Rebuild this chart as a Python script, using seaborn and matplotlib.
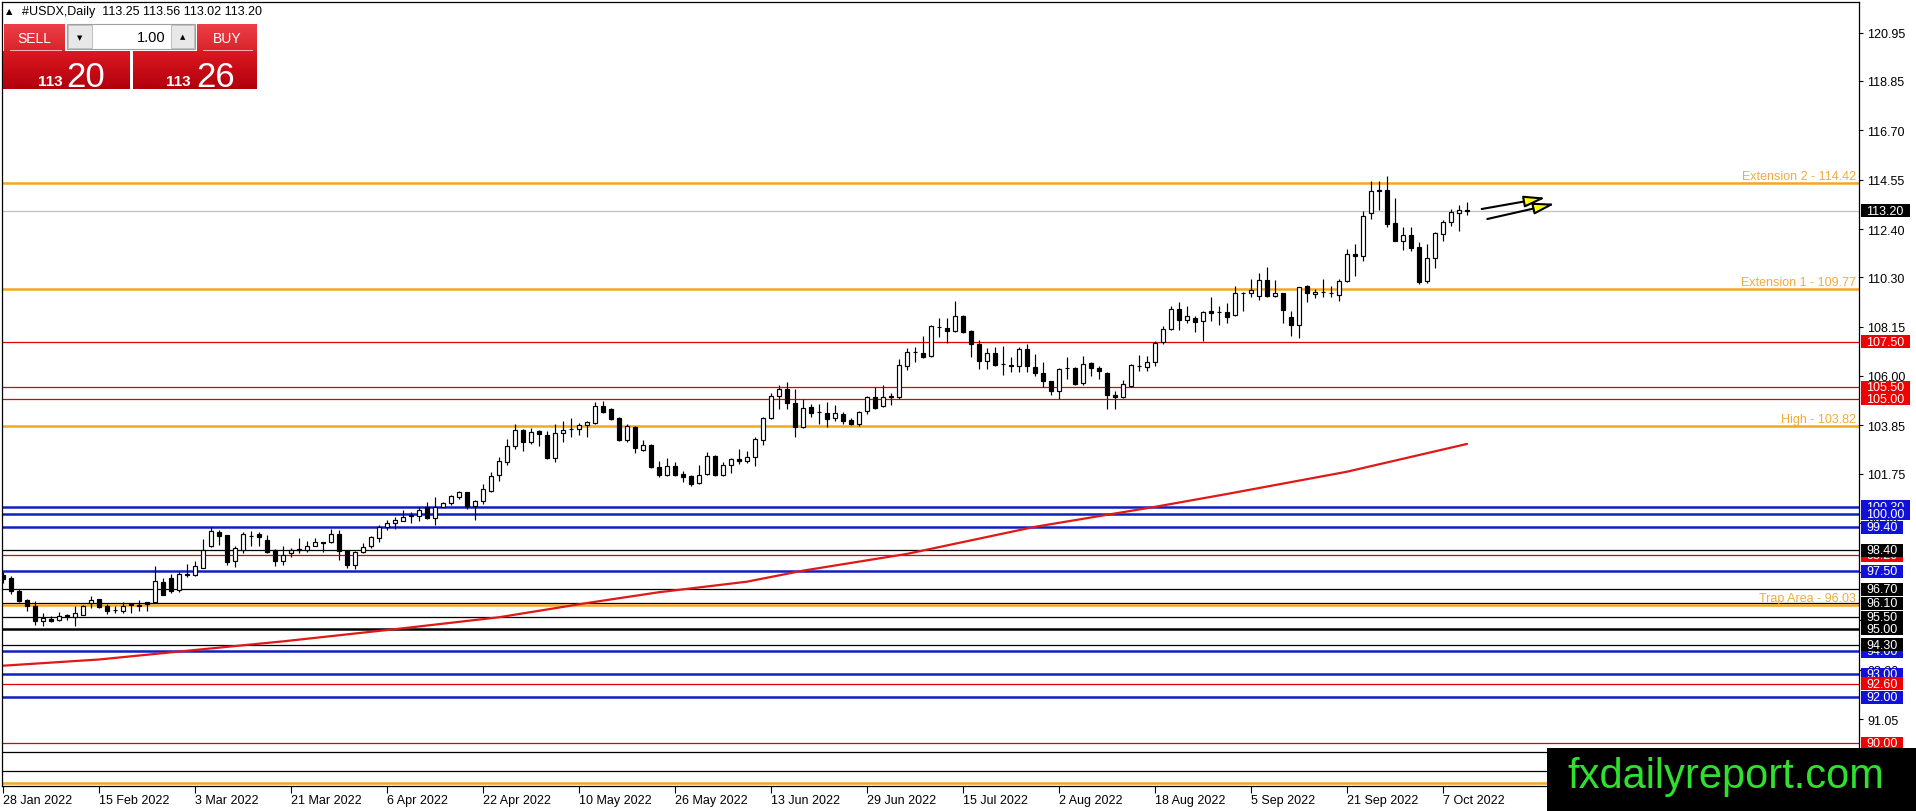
import numpy as np
import pandas as pd
import matplotlib
matplotlib.use("Agg")
import matplotlib.pyplot as plt
import matplotlib.transforms as mtransforms
from matplotlib.patches import Rectangle
from matplotlib.colors import LinearSegmentedColormap
import seaborn as sns

# ---------------- data ----------------
opens = [97.35, 97.19, 96.65, 96.24, 95.99, 95.31, 95.41, 95.38, 95.59, 95.51,
         95.60, 96.10, 96.28, 95.99, 95.81, 95.78, 96.03, 96.00, 96.14, 96.17,
         97.01, 97.18, 96.69, 97.33, 97.33, 97.65, 98.60, 99.22, 99.07, 97.95,
         98.43, 99.05, 99.12, 98.86, 98.43, 97.95, 98.29, 98.43, 98.43, 98.58,
         98.76, 98.75, 99.12, 98.39, 97.78, 98.32, 98.58, 98.93, 99.44, 99.58,
         99.70, 99.95, 99.91, 100.31, 99.80, 100.31, 100.47, 100.74, 100.93, 100.32,
         100.57, 101.00, 101.69, 102.27, 102.93, 103.65, 103.14, 103.62, 103.43, 102.43,
         103.50, 103.69, 103.69, 103.85, 103.94, 104.68, 104.56, 104.15, 103.23, 103.79,
         102.79, 102.99, 102.02, 101.70, 102.06, 101.73, 101.63, 101.32, 101.73, 102.50,
         101.70, 102.12, 102.38, 102.28, 102.48, 103.22, 104.15, 105.14, 105.43, 104.82,
         103.76, 104.63, 104.41, 104.39, 104.15, 104.34, 104.08, 103.91, 104.46, 105.07,
         104.68, 105.14, 105.10, 106.45, 107.03, 106.99, 106.88, 108.14, 108.07, 107.94,
         108.60, 107.94, 107.39, 106.64, 106.99, 106.52, 106.49, 106.42, 107.17, 106.38,
         106.13, 105.77, 105.33, 106.33, 106.35, 105.69, 106.56, 106.35, 106.13, 105.17,
         105.07, 105.58, 106.45, 106.40, 106.59, 107.46, 108.05, 108.92, 108.45, 108.52,
         108.38, 108.84, 108.77, 108.80, 108.67, 109.60, 109.60, 109.50, 110.18, 109.50,
         109.61, 108.55, 108.23, 109.90, 109.57, 109.64, 109.61, 109.53, 110.12, 111.31,
         111.21, 113.10, 114.10, 114.10, 112.65, 111.89, 112.14, 111.60, 110.15, 111.12,
         112.17, 112.69, 113.08, 113.25]
highs = [97.45, 97.27, 96.72, 96.28, 96.21, 95.68, 95.56, 95.70, 95.62, 95.99,
         96.02, 96.40, 96.29, 96.07, 95.99, 96.14, 96.07, 96.24, 96.17, 97.71,
         97.18, 97.37, 97.45, 97.81, 97.95, 98.90, 99.40, 99.29, 99.07, 98.61,
         99.19, 99.25, 99.22, 99.07, 98.46, 98.61, 98.49, 98.93, 98.82, 98.93,
         98.78, 99.33, 99.29, 98.39, 98.39, 98.71, 99.04, 99.51, 99.73, 99.84,
         100.16, 100.06, 100.30, 100.50, 100.71, 100.52, 100.81, 100.99, 100.96, 100.60,
         101.29, 101.80, 102.46, 103.25, 103.91, 103.69, 103.72, 103.65, 103.62, 103.91,
         104.02, 104.15, 103.95, 104.05, 104.88, 104.92, 104.59, 104.20, 103.91, 103.83,
         103.21, 103.04, 102.28, 102.43, 102.24, 101.87, 101.69, 102.12, 102.67, 102.56,
         102.24, 102.43, 102.82, 102.72, 103.33, 104.20, 105.26, 105.61, 105.72, 105.43,
         105.00, 104.78, 104.78, 104.88, 104.74, 104.45, 104.15, 104.49, 105.11, 105.50,
         105.61, 105.24, 106.74, 107.20, 107.25, 107.76, 108.22, 108.51, 108.51, 109.25,
         108.66, 108.00, 107.57, 107.20, 107.25, 107.32, 106.81, 107.25, 107.39, 106.96,
         106.59, 105.79, 106.35, 106.81, 106.38, 106.88, 106.59, 106.45, 106.19, 105.36,
         105.82, 106.52, 106.91, 106.88, 107.54, 108.16, 109.03, 109.24, 109.03, 108.63,
         108.84, 109.42, 109.03, 109.18, 109.93, 109.64, 110.22, 110.48, 110.73, 110.18,
         109.61, 108.84, 109.89, 109.96, 109.79, 110.22, 109.93, 110.22, 111.53, 111.75,
         113.20, 114.48, 114.51, 114.72, 113.74, 112.47, 112.50, 111.82, 111.75, 112.26,
         112.79, 113.27, 113.45, 113.56]
lows = [97.00, 96.50, 96.14, 95.78, 95.17, 95.09, 95.30, 95.34, 95.38, 95.12,
        95.59, 95.89, 95.91, 95.63, 95.66, 95.68, 95.66, 95.78, 95.78, 96.11,
        96.46, 96.55, 96.58, 97.23, 97.30, 97.65, 98.55, 98.64, 97.78, 97.66,
        98.29, 98.61, 98.58, 98.29, 97.71, 97.78, 98.10, 98.29, 98.35, 98.58,
        98.35, 98.72, 98.00, 97.64, 97.59, 98.29, 98.49, 98.78, 99.29, 99.33,
        99.70, 99.60, 99.70, 99.77, 99.52, 100.28, 100.38, 100.64, 100.20, 99.74,
        100.42, 100.93, 101.44, 102.12, 102.82, 102.75, 103.04, 102.96, 102.38, 102.27,
        103.14, 103.33, 103.43, 103.33, 103.91, 104.39, 104.10, 103.18, 103.14, 102.63,
        102.75, 101.98, 101.58, 101.66, 101.66, 101.37, 101.22, 101.29, 101.69, 101.66,
        101.66, 101.77, 102.17, 102.21, 102.09, 102.99, 104.13, 104.56, 104.56, 103.36,
        103.72, 104.20, 103.90, 103.76, 104.05, 103.91, 103.85, 103.80, 104.34, 104.56,
        104.63, 104.74, 104.99, 106.27, 106.62, 106.78, 106.84, 107.71, 107.42, 107.93,
        107.86, 106.84, 106.30, 106.30, 106.42, 106.06, 106.16, 106.16, 106.19, 106.01,
        105.50, 105.18, 105.00, 105.87, 105.61, 105.61, 106.01, 105.87, 104.56, 104.56,
        105.03, 105.50, 106.23, 106.23, 106.45, 107.39, 108.00, 108.00, 108.29, 107.93,
        107.54, 108.41, 108.22, 108.31, 108.63, 108.84, 109.46, 109.31, 109.45, 109.43,
        108.29, 107.76, 107.64, 109.21, 109.38, 109.42, 109.42, 109.28, 110.08, 110.36,
        111.02, 112.84, 113.24, 112.47, 111.89, 111.49, 111.43, 110.01, 110.03, 110.70,
        111.86, 112.55, 112.33, 113.02]
closes = [97.15, 96.65, 96.21, 95.99, 95.31, 95.46, 95.34, 95.56, 95.53, 95.66,
          95.99, 96.24, 95.92, 95.78, 95.82, 95.99, 96.05, 96.01, 96.08, 97.05,
          96.47, 96.65, 97.37, 97.36, 97.71, 98.43, 99.26, 99.04, 97.91, 98.49,
          99.12, 99.02, 98.97, 98.35, 97.95, 98.20, 98.43, 98.44, 98.58, 98.75,
          98.74, 99.12, 98.39, 97.78, 98.32, 98.54, 99.00, 99.44, 99.58, 99.73,
          99.84, 99.89, 100.17, 99.80, 100.28, 100.45, 100.76, 100.93, 100.32, 100.57,
          101.08, 101.66, 102.31, 102.93, 103.65, 103.14, 103.57, 103.47, 102.43, 103.52,
          103.65, 103.70, 103.88, 103.98, 104.71, 104.42, 104.13, 103.23, 103.83, 102.85,
          102.99, 102.02, 101.70, 102.06, 101.70, 101.58, 101.29, 101.70, 102.50, 101.70,
          102.12, 102.38, 102.28, 102.48, 103.25, 104.15, 105.14, 105.43, 104.81, 103.76,
          104.59, 104.39, 104.42, 104.13, 104.39, 104.05, 103.91, 104.45, 105.07, 104.60,
          105.07, 105.07, 106.48, 107.03, 107.04, 106.84, 108.16, 108.15, 107.97, 108.60,
          107.90, 107.39, 106.64, 106.99, 106.49, 106.52, 106.42, 107.17, 106.42, 106.11,
          105.77, 105.33, 106.30, 106.33, 105.65, 106.52, 106.33, 106.23, 105.18, 105.07,
          105.65, 106.48, 106.44, 106.59, 107.43, 108.05, 108.92, 108.45, 108.60, 108.36,
          108.80, 108.73, 108.77, 108.58, 109.61, 109.61, 109.75, 110.18, 109.50, 109.61,
          108.89, 108.23, 109.86, 109.60, 109.67, 109.64, 109.61, 110.15, 111.31, 111.21,
          112.95, 114.04, 114.04, 112.62, 111.89, 112.14, 111.56, 110.08, 111.12, 112.21,
          112.69, 113.13, 113.23, 113.20]

ma_bars = [0, 12, 23, 35, 50, 62, 73, 82, 93, 100, 113, 129, 144, 153, 168, 183]
ma_values = [93.38, 93.65, 94.03, 94.44, 95.01, 95.49, 96.11, 96.58, 97.04, 97.52,
             98.25, 99.43, 100.30, 100.86, 101.83, 103.04]

date_labels = ["28 Jan 2022", "15 Feb 2022", "3 Mar 2022", "21 Mar 2022", "6 Apr 2022",
               "22 Apr 2022", "10 May 2022", "26 May 2022", "13 Jun 2022", "29 Jun 2022",
               "15 Jul 2022", "2 Aug 2022", "18 Aug 2022", "5 Sep 2022", "21 Sep 2022",
               "7 Oct 2022"]
date_label_bars = [0, 12, 24, 36, 48, 60, 72, 84, 96, 108, 120, 132, 144, 156, 168, 180]

price_ticks = [120.95, 118.85, 116.70, 114.55, 112.40, 110.30, 108.15, 106.00, 103.85,
               101.75, 99.60, 97.45, 95.35, 93.20, 91.05]

red_levels = [107.50, 105.50, 105.00, 98.20, 92.60, 90.00]
blue_levels = [100.30, 100.00, 99.40, 97.50, 94.00, 93.00, 92.00]
black_levels = [98.40, 96.70, 96.10, 95.50, 94.30, 89.63, 88.78]
black_thick_levels = [95.00]
orange_levels = [114.42, 109.77, 103.82, 96.03, 88.27]
orange_texts = ["Extension 2 - 114.42", "Extension 1 - 109.77", "High - 103.82",
                "Trap Area - 96.03", ""]
current_price = 113.20

# right-side price boxes (drawn in this order; later ones on top)
box_prices = [100.30, 100.00, 99.40, 98.20, 98.40, 97.50, 96.70, 96.10, 95.50, 95.00,
              94.00, 94.30, 93.00, 92.60, 92.00, 90.00, 107.50, 105.50, 105.00, 113.20]
box_kinds = ["blue", "blue", "blue", "red", "black", "blue", "black", "black", "black", "black",
             "blue", "black", "blue", "red", "blue", "red", "red", "red", "red", "black"]

header_text = "#USDX,Daily  113.25 113.56 113.02 113.20"

# ---------------- style ----------------
W, H = 1916, 812
sns.set_theme(style="white")
plt.rcParams['font.family'] = ['Liberation Sans', 'DejaVu Sans']
plt.rcParams['axes.edgecolor'] = 'black'
plt.rcParams['axes.linewidth'] = 0.9

RED = '#e00000'
BLUE = '#1020c0'
ORANGE = '#f5a623'
ORANGE_TXT = '#f0ac3c'
kind_colors = {"blue": "#1010d8", "red": "#f00000", "black": "#000000"}

fig = plt.figure(figsize=(W / 100, H / 100), dpi=100)
fig.patch.set_facecolor('white')
ax = fig.add_axes([2 / W, 1 - 787 / H, 1857 / W, 784 / H])
ax.set_facecolor('white')

df = pd.DataFrame({"bar": np.arange(len(opens)), "open": opens, "high": highs,
                   "low": lows, "close": closes})

# horizontal levels
for p in red_levels:
    ax.axhline(p, color=RED, lw=0.9, zorder=1)
for p in blue_levels:
    ax.axhline(p, color=BLUE, lw=1.8, zorder=1)
for p in black_levels:
    ax.axhline(p, color='black', lw=0.9, zorder=1)
for p in black_thick_levels:
    ax.axhline(p, color='black', lw=1.8, zorder=1)
for p in orange_levels:
    ax.axhline(p, color=ORANGE, lw=1.8, zorder=1)
ax.axhline(current_price, color='#c0c0c0', lw=0.9, zorder=1)

# moving average
ma_df = pd.DataFrame({"bar": ma_bars, "ma": ma_values})
sns.lineplot(data=ma_df, x="bar", y="ma", ax=ax, color='#e01818', lw=1.6, zorder=2)

# candles
ax.vlines(df["bar"], df["low"], df["high"], color='black', lw=0.85, zorder=3)
o = df["open"].to_numpy()
c = df["close"].to_numpy()
bottoms = np.minimum(o, c)
heights = np.maximum(np.abs(c - o), 0.012)
facecols = ['white' if cc >= oo else 'black' for oo, cc in zip(o, c)]
ax.bar(df["bar"], heights, bottom=bottoms, width=0.6, color=facecols,
       edgecolor='black', linewidth=0.85, zorder=4)

ax.set_xlim(-0.125, 232.0)
ax.set_ylim(88.14, 122.29)
ax.set_xlabel("")
ax.set_ylabel("")

# axes ticks
ax.yaxis.tick_right()
ax.set_yticks(price_ticks)
ax.set_yticklabels([f"{v:.2f}" for v in price_ticks])
ax.tick_params(axis='y', which='major', direction='out', length=3, width=0.8, pad=3,
               labelsize=9, colors='black', left=False, right=True)
ax.set_xticks(date_label_bars)
ax.set_xticklabels(date_labels, ha='left')
ax.tick_params(axis='x', which='major', direction='out', length=5, width=0.8, pad=1,
               labelsize=9, colors='black', bottom=True)
for s in ax.spines.values():
    s.set_color('black')
    s.set_linewidth(0.9)

# orange level texts
for p, t in zip(orange_levels, orange_texts):
    if t:
        ax.text((1856 - 2) / 1857, p + 0.05, t, transform=mtransforms.blended_transform_factory(ax.transAxes, ax.transData),
                ha='right', va='bottom', color=ORANGE_TXT, fontsize=9, zorder=5)

# price boxes on the right axis
trans = mtransforms.blended_transform_factory(ax.transAxes, ax.transData)
box_h = 13 / 22.957
for k, (p, kind) in enumerate(zip(box_prices, box_kinds)):
    txt = f"{p:.2f}"
    wpx = 7 + 7 * len(txt)
    ax.add_patch(Rectangle(((1861 - 2) / 1857, p - box_h / 2), wpx / 1857, box_h,
                           transform=trans, clip_on=False, facecolor=kind_colors[kind],
                           edgecolor='none', zorder=10 + 2 * k))
    ax.text((1866 - 2) / 1857, p, txt, transform=trans, clip_on=False, ha='left',
            va='center', color='white', fontsize=9, zorder=11 + 2 * k)

# arrows (annotation)
def px2data(x, y):
    return (-0.125 + (x - 2) / 8.0, 122.29 - (y - 3) / 22.957)

for (sx, sy), (tx, ty) in [((1481.7, 210.0), (1545.7, 198.7)), ((1487.3, 220.0), (1555.0, 204.7))]:
    ax.annotate("", xy=px2data(tx, ty), xytext=px2data(sx, sy),
                arrowprops=dict(arrowstyle='-|>,head_length=1.3,head_width=0.35',
                                fc='#ffff00', ec='black', lw=1.5, shrinkA=0, shrinkB=0,
                                mutation_scale=10), zorder=6)

# ---------------- figure decorations (pixel helpers) ----------------
def fig_rect(x, y, w, h, **kw):
    fig.add_artist(Rectangle((x / W, 1 - (y + h) / H), w / W, h / H,
                             transform=fig.transFigure, **kw))

def fig_text(x, y, s, **kw):
    fig.text(x / W, 1 - y / H, s, **kw)

def grad(x, y, w, h, ctop, cbot):
    a = fig.add_axes([x / W, 1 - (y + h) / H, w / W, h / H])
    cmap = LinearSegmentedColormap.from_list('g', [ctop, cbot])
    a.imshow(np.linspace(0, 1, 64).reshape(-1, 1), aspect='auto', cmap=cmap)
    a.set_axis_off()

# header
fig_text(6, 12, "\u25b2", fontsize=6, family=['DejaVu Sans'], va='center', ha='left', color='black')
fig_text(22, 12, header_text, fontsize=9, va='center', ha='left', color='black')

# trade panel
grad(4, 25, 61, 27, '#ec4046', '#d9232b')
grad(197, 25, 60, 27, '#ec4046', '#d9232b')
grad(3, 52, 127, 38, '#dc1820', '#b0000c')
grad(133, 52, 124, 38, '#dc1820', '#b0000c')
fig_rect(10, 51, 52, 1, facecolor='#f6b0b0', edgecolor='none')
fig_rect(203, 51, 50, 1, facecolor='#f6b0b0', edgecolor='none')
fig_text(34.5, 39, "SELL", fontsize=10, color='white', ha='center', va='center')
fig_text(227, 39, "BUY", fontsize=10, color='white', ha='center', va='center')
fig_rect(67, 25, 128, 25, facecolor='white', edgecolor='#a0a0a0', linewidth=0.8)
fig_rect(68, 26, 24, 23, facecolor='#e8e8e8', edgecolor='#b8b8b8', linewidth=0.6)
fig_rect(171, 26, 23, 23, facecolor='#e8e8e8', edgecolor='#b8b8b8', linewidth=0.6)
fig_text(80, 38, "\u25bc", fontsize=5, family=['DejaVu Sans'], ha='center', va='center', color='black')
fig_text(182.5, 37, "\u25b2", fontsize=5, family=['DejaVu Sans'], ha='center', va='center', color='black')
fig_text(166, 38, "1.00", fontsize=10.5, ha='right', va='center', color='black')
fig_text(38, 86, "113", fontsize=11, fontweight='bold', color='white', ha='left', va='baseline')
fig_text(66, 87, "20", fontsize=25, color='white', ha='left', va='baseline')
fig_text(166, 86, "113", fontsize=11, fontweight='bold', color='white', ha='left', va='baseline')
fig_text(196, 87, "26", fontsize=25, color='white', ha='left', va='baseline')

# watermark
fig_rect(1547, 749, 369, 63, facecolor='black', edgecolor='none', zorder=5)
fig_text(1725.5, 788, "fxdailyreport.com", fontsize=30, color='#2fe02f', ha='center',
         va='baseline', zorder=6)

fig.savefig("out.png", dpi=100, facecolor='white')
